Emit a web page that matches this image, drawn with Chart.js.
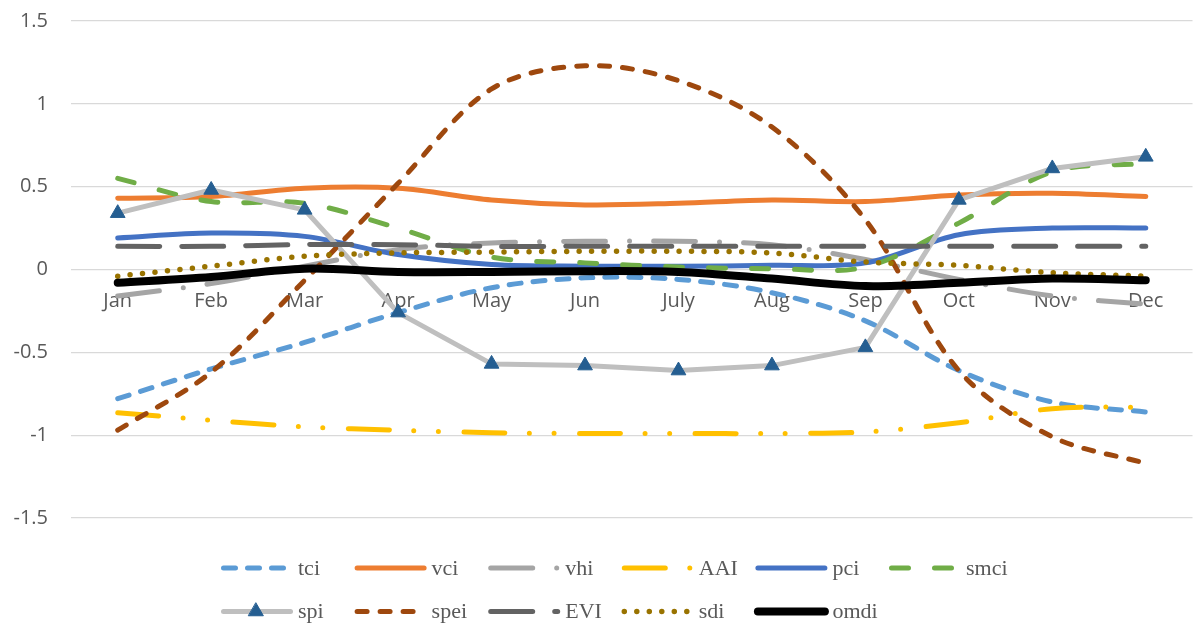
<!DOCTYPE html>
<html>
<head>
<meta charset="utf-8">
<script src="https://cdn.jsdelivr.net/npm/chart.js@4.4.1/dist/chart.umd.min.js"></script>
<style>
  html, body { margin: 0; padding: 0; background: #ffffff; }
  #wrap { width: 1202px; height: 623px; }
</style>
</head>
<body>
<div id="wrap"><canvas id="chart" width="1202" height="623"></canvas></div>
<script>
// Monthly index values
const months = ['Jan', 'Feb', 'Mar', 'Apr', 'May', 'Jun', 'July', 'Aug', 'Sep', 'Oct', 'Nov', 'Dec'];

const tci  = [-0.78, -0.60, -0.44, -0.26, -0.11, -0.05, -0.06, -0.14, -0.31, -0.61, -0.80, -0.86];
const vci  = [0.43, 0.44, 0.49, 0.49, 0.42, 0.39, 0.40, 0.42, 0.41, 0.45, 0.46, 0.44];
const vhi  = [-0.16, -0.085, 0.02, 0.12, 0.16, 0.17, 0.17, 0.15, 0.06, -0.06, -0.16, -0.21];
const AAI  = [-0.865, -0.91, -0.95, -0.97, -0.985, -0.99, -0.99, -0.99, -0.98, -0.925, -0.84, -0.83];
const pci  = [0.19, 0.22, 0.20, 0.09, 0.03, 0.02, 0.02, 0.025, 0.04, 0.21, 0.25, 0.25];
const smci = [0.55, 0.41, 0.40, 0.25, 0.075, 0.04, 0.015, 0.005, 0.015, 0.28, 0.59, 0.64];
const spi  = [0.34, 0.48, 0.36, -0.26, -0.57, -0.58, -0.61, -0.58, -0.47, 0.42, 0.61, 0.68];
const spei = [-0.97, -0.62, -0.065, 0.52, 1.09, 1.23, 1.14, 0.86, 0.30, -0.61, -1.01, -1.17];
const EVI  = [0.14, 0.14, 0.15, 0.15, 0.14, 0.14, 0.14, 0.14, 0.14, 0.14, 0.14, 0.14];
const sdi  = [-0.04, 0.02, 0.08, 0.10, 0.105, 0.11, 0.11, 0.10, 0.045, 0.025, -0.02, -0.04];
const omdi = [-0.08, -0.045, 0.005, -0.015, -0.015, -0.01, -0.015, -0.055, -0.10, -0.08, -0.055, -0.065];

const yTickValues = [-1.5, -1, -0.5, 0, 0.5, 1, 1.5];

const seriesNames  = ['tci', 'vci', 'vhi', 'AAI', 'pci', 'smci', 'spi', 'spei', 'EVI', 'sdi', 'omdi'];
const seriesValues = [tci, vci, vhi, AAI, pci, smci, spi, spei, EVI, sdi, omdi];

// Line styling per series
const seriesColors = ['#5B9BD5', '#ED7D31', '#A5A5A5', '#FFC000', '#4472C4', '#70AD47',
                      '#BFBFBF', '#9E480E', '#636363', '#997300', '#000000'];
const seriesDashes = [[12, 12], [], [42, 24, 0, 24], [41, 24.5, 0, 24.6, 0, 25.5], [], [17, 26],
                      [], [10, 13], [42, 22], [0, 12.5], []];
const seriesWidths = [5, 5, 5, 5, 5, 5, 5, 5, 5, 5.5, 8];

const tickFont = { family: '"Open Sans", sans-serif', size: 20 };
const tickColor = '#595959';

const datasets = seriesNames.map((name, i) => {
  const isSpi = name === 'spi';
  return {
    label: name,
    data: seriesValues[i],
    borderColor: seriesColors[i],
    backgroundColor: seriesColors[i],
    borderWidth: seriesWidths[i],
    borderDash: seriesDashes[i],
    borderCapStyle: 'round',
    borderJoinStyle: 'round',
    tension: isSpi ? 0 : 0.33,
    fill: false,
    pointRadius: isSpi ? 8.5 : 0,
    pointHoverRadius: isSpi ? 8.5 : 0,
    pointStyle: isSpi ? 'triangle' : 'circle',
    pointBackgroundColor: isSpi ? '#255E91' : seriesColors[i],
    pointBorderColor: isSpi ? '#255E91' : seriesColors[i],
    pointBorderWidth: isSpi ? 1 : 0,
    order: seriesNames.length - i
  };
});

// Two-row legend laid out on a fixed column grid below the plot
const gridLegend = {
  id: 'gridLegend',
  afterDraw(chart) {
    const ctx = chart.ctx;
    const colStart = 221, colStep = 133.6, rowStart = 568, rowStep = 43.5, perRow = 6;
    chart.data.datasets.forEach((ds, i) => {
      const col = i % perRow;
      const row = Math.floor(i / perRow);
      const x0 = colStart + col * colStep;
      const y = rowStart + row * rowStep;
      ctx.save();
      ctx.strokeStyle = ds.borderColor;
      ctx.lineWidth = ds.borderWidth;
      ctx.lineCap = 'round';
      ctx.setLineDash(ds.borderDash || []);
      ctx.beginPath();
      ctx.moveTo(x0 + 2.5, y);
      ctx.lineTo(x0 + 69.5, y);
      ctx.stroke();
      if (ds.pointRadius > 0) {
        ctx.setLineDash([]);
        ctx.fillStyle = ds.pointBackgroundColor;
        ctx.strokeStyle = ds.pointBorderColor;
        ctx.lineWidth = ds.pointBorderWidth;
        Chart.helpers.drawPoint(ctx, {
          pointStyle: ds.pointStyle,
          radius: ds.pointRadius,
          borderWidth: ds.pointBorderWidth,
          rotation: 0
        }, x0 + 35, y);
      }
      ctx.fillStyle = '#595959';
      ctx.font = '22px "Liberation Serif", "Times New Roman", serif';
      ctx.textAlign = 'left';
      ctx.textBaseline = 'middle';
      ctx.fillText(ds.label, x0 + 77, y + 1);
      ctx.restore();
    });
  }
};

new Chart(document.getElementById('chart'), {
  type: 'line',
  data: { labels: months, datasets: datasets },
  options: {
    responsive: false,
    devicePixelRatio: 1,
    animation: false,
    events: [],
    layout: { padding: { top: 21, bottom: 105, left: 0, right: 0 } },
    plugins: {
      legend: { display: false },
      tooltip: { enabled: false }
    },
    scales: {
      x: {
        type: 'category',
        position: { y: 0 },
        offset: true,
        grid: { display: false, drawTicks: false },
        border: { display: false },
        ticks: {
          font: tickFont,
          color: tickColor,
          padding: 20,
          maxRotation: 0,
          autoSkip: false
        }
      },
      y: {
        position: 'left',
        min: -1.5,
        max: 1.5,
        afterBuildTicks(scale) {
          scale.ticks = yTickValues.map(v => ({ value: v }));
        },
        afterFit(scale) {
          scale.width = 71;
          scale.paddingTop = 0;
          scale.paddingBottom = 0;
        },
        grid: { color: '#D9D9D9', lineWidth: 1.3, drawTicks: false },
        border: { display: false },
        ticks: {
          font: tickFont,
          color: tickColor,
          padding: 23,
          callback: v => String(v)
        }
      }
    }
  },
  plugins: [gridLegend]
});
</script>
</body>
</html>
